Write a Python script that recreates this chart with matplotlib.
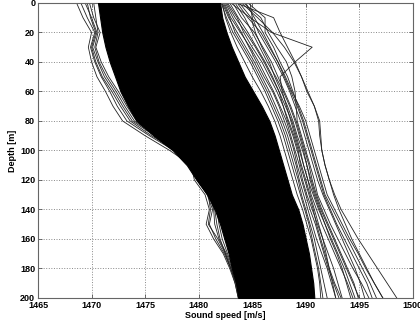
import numpy as np
import matplotlib
matplotlib.use('Agg')
from matplotlib import pyplot as plt

plt.rcParams['font.family'] = ['Liberation Sans', 'DejaVu Sans']

# depth levels of every profile [m]
depth = [0, 10, 20, 30, 40, 50, 60, 70, 80, 90, 100,
         110, 120, 130, 140, 150, 160, 170, 180, 190, 200]

# bulk of the casts: left and right bound of the dense bundle [m/s]
core_left = [1470.6, 1470.8, 1471.0, 1471.3, 1471.7, 1472.2, 1472.7, 1473.4, 1474.2, 1475.8, 1477.6,
             1478.9, 1479.8, 1480.8, 1481.5, 1482.0, 1482.4, 1482.8, 1483.1, 1483.5, 1483.7]
core_right = [1482.0, 1482.2, 1482.6, 1483.1, 1483.7, 1484.3, 1485.1, 1485.9, 1486.6, 1487.1, 1487.5,
              1487.9, 1488.3, 1488.7, 1489.3, 1489.7, 1490.0, 1490.3, 1490.5, 1490.7, 1490.8]

# single casts on the slow side
left_casts = [
    [1468.6, 1469.2, 1470.0, 1469.7, 1470.0, 1470.5, 1471.3, 1472.0, 1472.9, 1475.0, 1477.3,
     1479.3, 1479.6, 1480.6, 1481.0, 1480.7, 1481.4, 1482.3, 1482.9, 1483.4, 1483.7],
    [1469.0, 1469.6, 1470.3, 1469.9, 1470.3, 1470.9, 1471.7, 1472.4, 1473.3, 1475.4, 1477.7,
     1479.5, 1479.9, 1480.8, 1481.3, 1481.0, 1481.6, 1482.4, 1483.0, 1483.5, 1483.8],
    [1469.4, 1470.0, 1470.5, 1470.1, 1470.6, 1471.2, 1472.1, 1472.9, 1473.8, 1475.9, 1478.1,
     1479.7, 1480.2, 1481.0, 1481.4, 1481.5, 1481.9, 1482.6, 1483.1, 1483.5, 1483.8],
    [1469.8, 1470.2, 1470.8, 1470.4, 1470.9, 1471.6, 1472.5, 1473.3, 1474.2, 1476.3, 1478.5,
     1479.9, 1480.4, 1481.2, 1481.7, 1481.9, 1482.2, 1482.7, 1483.2, 1483.6, 1483.8],
    [1470.2, 1470.4, 1470.6, 1470.3, 1470.7, 1471.4, 1472.3, 1473.1, 1474.0, 1476.0, 1478.2,
     1479.6, 1480.1, 1480.9, 1481.1, 1480.9, 1481.8, 1482.5, 1483.0, 1483.5, 1483.8],
    [1469.6, 1469.9, 1470.4, 1470.0, 1470.4, 1471.0, 1471.9, 1472.7, 1473.6, 1475.6, 1477.9,
     1479.4, 1480.0, 1480.9, 1481.5, 1481.7, 1482.0, 1482.5, 1483.0, 1483.4, 1483.7],
]

# single casts on the fast side
right_casts = [
    [1483.5, 1487.0, 1487.6, 1488.3, 1489.0, 1489.6, 1490.1, 1490.8, 1491.2, 1491.3, 1491.5,
     1491.8, 1492.2, 1492.7, 1493.3, 1494.1, 1494.9, 1495.8, 1496.7, 1497.6, 1498.5],
    [1483.0, 1484.8, 1486.8, 1490.6, 1489.0, 1487.6, 1487.8, 1488.2, 1488.6, 1489.0, 1489.4,
     1489.8, 1490.2, 1490.7, 1491.2, 1491.8, 1492.4, 1493.0, 1493.6, 1494.1, 1494.6],
    [1484.0, 1485.5, 1486.9, 1488.0, 1488.9, 1489.6, 1490.2, 1490.8, 1491.3, 1491.4, 1491.5,
     1491.8, 1492.2, 1492.6, 1493.1, 1493.7, 1494.3, 1495.0, 1495.7, 1496.4, 1497.2],
    [1484.2, 1485.8, 1486.5, 1487.3, 1488.2, 1488.7, 1489.0, 1489.1, 1489.2, 1489.6, 1490.0,
     1490.4, 1490.8, 1491.1, 1491.7, 1492.3, 1493.0, 1493.7, 1494.4, 1495.2, 1495.9],
    [1484.6, 1486.2, 1486.2, 1487.0, 1487.6, 1488.3, 1488.8, 1489.3, 1489.8, 1490.2, 1490.6,
     1491.0, 1491.4, 1491.8, 1492.5, 1493.2, 1493.9, 1494.6, 1495.3, 1496.0, 1496.6],
    [1484.8, 1485.0, 1485.6, 1486.4, 1487.2, 1487.9, 1488.5, 1489.0, 1489.5, 1489.9, 1490.3,
     1490.7, 1491.1, 1491.6, 1492.2, 1492.8, 1493.4, 1494.0, 1494.6, 1495.1, 1495.5],
    [1483.2, 1484.0, 1485.2, 1486.0, 1486.8, 1487.4, 1488.0, 1488.6, 1489.1, 1489.5, 1489.9,
     1490.3, 1490.6, 1491.0, 1491.5, 1492.1, 1492.7, 1493.3, 1493.9, 1494.5, 1494.9],
    [1482.6, 1483.4, 1484.4, 1485.3, 1486.1, 1486.8, 1487.5, 1488.1, 1488.7, 1489.1, 1489.5,
     1489.8, 1490.2, 1490.5, 1491.0, 1491.5, 1492.1, 1492.7, 1493.3, 1493.9, 1494.4],
    [1482.4, 1483.0, 1483.9, 1484.8, 1485.6, 1486.3, 1487.0, 1487.6, 1488.2, 1488.6, 1489.0,
     1489.4, 1489.7, 1490.1, 1490.6, 1491.1, 1491.6, 1492.1, 1492.6, 1493.0, 1493.4],
    [1482.2, 1482.8, 1483.6, 1484.4, 1485.2, 1485.9, 1486.6, 1487.2, 1487.8, 1488.3, 1488.7,
     1489.1, 1489.4, 1489.8, 1490.2, 1490.6, 1491.0, 1491.5, 1492.0, 1492.4, 1492.8],
    [1482.9, 1483.7, 1484.6, 1485.4, 1486.2, 1486.9, 1487.5, 1487.9, 1488.3, 1488.8, 1489.2,
     1489.6, 1490.0, 1490.4, 1490.8, 1491.2, 1491.6, 1491.9, 1492.2, 1492.5, 1492.8],
    [1482.1, 1482.6, 1483.2, 1484.0, 1484.8, 1485.5, 1486.2, 1486.8, 1487.4, 1487.9, 1488.3,
     1488.7, 1489.1, 1489.5, 1489.9, 1490.3, 1490.6, 1490.9, 1491.2, 1491.4, 1491.6],
    [1483.8, 1484.9, 1485.3, 1485.9, 1486.6, 1487.1, 1487.7, 1488.3, 1488.8, 1489.2, 1489.7,
     1490.1, 1490.5, 1490.9, 1491.4, 1492.0, 1492.6, 1493.2, 1493.8, 1494.4, 1495.0],
    [1482.3, 1482.9, 1483.4, 1484.2, 1485.0, 1485.7, 1486.4, 1487.0, 1487.6, 1488.1, 1488.5,
     1488.9, 1489.3, 1489.6, 1490.0, 1490.4, 1490.8, 1491.1, 1491.4, 1491.7, 1492.0],
    [1482.5, 1483.2, 1484.0, 1484.7, 1485.4, 1486.1, 1486.9, 1487.5, 1488.0, 1488.5, 1488.9,
     1489.2, 1489.6, 1490.0, 1490.4, 1490.9, 1491.3, 1491.7, 1492.1, 1492.6, 1493.1],
    [1483.4, 1484.3, 1485.0, 1485.7, 1486.4, 1487.2, 1487.9, 1488.5, 1489.0, 1489.4, 1489.8,
     1490.1, 1490.4, 1490.8, 1491.3, 1491.8, 1492.3, 1492.9, 1493.4, 1493.8, 1494.2],
    [1482.7, 1483.6, 1484.2, 1485.0, 1485.9, 1486.6, 1487.3, 1487.9, 1488.4, 1488.9, 1489.3,
     1489.5, 1489.9, 1490.3, 1490.7, 1491.0, 1491.4, 1491.8, 1492.2, 1492.7, 1493.3],
    [1484.4, 1485.2, 1486.0, 1486.7, 1487.4, 1488.0, 1488.6, 1489.2, 1489.7, 1490.1, 1490.5,
     1490.9, 1491.3, 1491.7, 1492.3, 1492.9, 1493.6, 1494.3, 1495.0, 1495.7, 1496.2],
    [1482.2, 1482.5, 1483.0, 1483.6, 1484.3, 1485.0, 1485.8, 1486.5, 1487.1, 1487.6, 1488.0,
     1488.4, 1488.8, 1489.2, 1489.7, 1490.1, 1490.5, 1490.8, 1491.1, 1491.3, 1491.4],
    [1483.6, 1484.6, 1485.8, 1486.6, 1487.4, 1488.1, 1488.7, 1489.4, 1490.0, 1490.4, 1490.8,
     1491.2, 1491.6, 1492.0, 1492.7, 1493.4, 1494.1, 1494.9, 1495.6, 1496.4, 1497.2],
]

fig = plt.figure(figsize=(4.2, 3.27), dpi=100)
ax = fig.add_axes([0.0905, 0.0887, 0.8925, 0.9023])

ax.fill_betweenx(depth, core_left, core_right, color='k', lw=0.8, zorder=3)
for c in left_casts + right_casts:
    ax.plot(c, depth, color='#222222', lw=0.6, zorder=2)

ax.set_xlim(1465, 1500)
ax.set_ylim(200, 0)
ax.set_xticks(np.arange(1465, 1501, 5))
ax.set_yticks(np.arange(0, 201, 20))
ax.grid(True, linestyle=':', color='#888888', lw=0.7)
ax.set_axisbelow(True)
ax.tick_params(direction='in', length=3, width=0.6, top=True, right=True,
               labelsize=6.5, colors='#555555', labelcolor='k', pad=2)
for lab in ax.get_xticklabels() + ax.get_yticklabels():
    lab.set_fontweight('semibold')
for s in ax.spines.values():
    s.set_color('#666666')
    s.set_linewidth(0.8)

ax.set_xlabel('Sound speed [m/s]', fontsize=6.5, fontweight='bold', labelpad=1)
ax.set_ylabel('Depth [m]', fontsize=6.5, fontweight='bold', labelpad=2)

fig.savefig('out.png', dpi=100)
